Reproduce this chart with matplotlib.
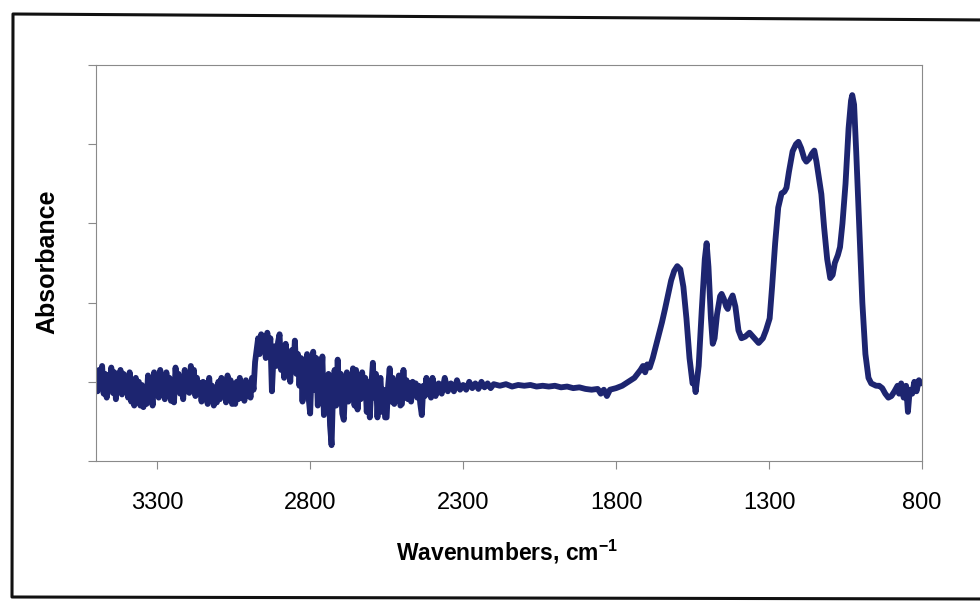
import numpy as np

from matplotlib import pyplot as plt
from matplotlib.lines import Line2D


FIG_W, FIG_H = 980, 601
LINE_COLOR = '#1d2570'
FRAME_COLOR = '#8a8a8a'

# noisy part of the spectrum, 3500 -> 2400 cm-1, every 5 cm-1
wn_noise = list(range(3500, 2395, -5))
ab_noise = [
    1.05, 0.88, 1.15, 0.92, 1.20, 0.85, 1.10, 0.80, 1.08, 0.95,
    1.18, 0.86, 1.12, 0.78, 1.02, 0.90, 1.15, 0.84, 1.10, 0.92,
    1.05, 0.80, 1.12, 0.75, 0.98, 0.70, 1.05, 0.82, 1.00, 0.70,
    0.96, 0.68, 0.90, 0.72, 1.08, 0.76, 0.98, 0.70, 1.12, 0.85,
    1.02, 0.80, 1.15, 0.88, 1.08, 0.78, 1.12, 0.90, 1.05, 0.76,
    0.95, 0.74, 1.18, 0.92, 1.10, 0.85, 1.02, 0.78, 1.15, 0.88,
    1.10, 0.86, 1.20, 0.90, 1.15, 0.82, 1.05, 0.88, 0.98, 0.75,
    1.00, 0.78, 0.98, 0.72, 1.05, 0.80, 0.95, 0.70, 0.92, 0.74,
    1.00, 0.78, 1.05, 0.82, 0.96, 0.74, 1.08, 0.86, 1.02, 0.72,
    0.95, 0.72, 1.00, 0.78, 1.05, 0.80, 0.98, 0.76, 1.02, 0.82,
    0.98, 0.80, 1.05, 0.90, 1.25, 1.40, 1.55, 1.35, 1.60, 1.45,
    1.58, 1.30, 1.62, 1.40, 1.55, 0.88, 1.30, 1.45, 1.20, 1.50,
    1.60, 1.15, 1.45, 1.05, 1.48, 1.10, 1.30, 1.00, 1.40, 1.15,
    1.52, 1.10, 1.35, 0.95, 1.30, 0.75, 1.28, 1.05, 1.35, 0.80,
    0.60, 1.15, 1.38, 0.90, 1.30, 0.70, 1.25, 0.95, 1.32, 0.58,
    1.05, 0.62, 1.10, 0.45, 0.20, 0.90, 1.15, 0.70, 1.28, 0.85,
    1.10, 0.60, 0.52, 1.00, 1.12, 0.75, 1.05, 0.82, 1.17, 0.70,
    1.15, 0.65, 1.08, 0.78, 1.12, 0.90, 1.05, 0.62, 1.00, 0.55,
    0.95, 1.24, 0.80, 1.10, 0.55, 0.98, 1.05, 0.62, 0.90, 0.55,
    0.55, 0.95, 1.17, 0.75, 1.05, 0.72, 1.00, 0.82, 1.08, 0.70,
    0.72, 1.15, 0.80, 1.02, 0.78, 0.98, 0.75, 1.00, 0.85, 0.98,
    0.80, 0.95, 0.72, 0.58, 0.95, 0.82, 1.05, 0.85, 0.98, 0.80,
    1.05,
]

# calmer stretch, 2390 -> 2200 cm-1
wn_calm = list(range(2390, 2190, -10))
ab_calm = [0.82, 0.98, 0.85, 1.05, 0.88, 0.98, 0.88, 1.02, 0.90, 0.96,
           0.90, 1.00, 0.92, 0.98, 0.91, 1.00, 0.93, 0.98, 0.92, 0.97]

# flat baseline, 2180 -> 1780 cm-1
wn_flat = [2180, 2160, 2140, 2120, 2100, 2080, 2060, 2040, 2020, 2000,
           1980, 1960, 1940, 1920, 1900, 1880, 1860, 1850, 1840, 1830,
           1820, 1800, 1780]
ab_flat = [0.95, 0.97, 0.94, 0.96, 0.95, 0.96, 0.94, 0.95, 0.94, 0.95,
           0.93, 0.94, 0.92, 0.93, 0.91, 0.90, 0.91, 0.85, 0.90, 0.82,
           0.90, 0.92, 0.95]

# absorption bands, 1760 -> 803 cm-1
wn_bands = [
    1760, 1740, 1730, 1720, 1712, 1705, 1698, 1690, 1680, 1670,
    1660, 1650, 1640, 1630, 1620, 1610, 1600, 1590, 1580, 1570,
    1560, 1550, 1545, 1540, 1530, 1520, 1510, 1504, 1498, 1490,
    1484, 1478, 1470, 1460, 1455, 1448, 1440, 1435, 1428, 1419,
    1410, 1400, 1390, 1378, 1364, 1350, 1334, 1320, 1310, 1298,
    1290, 1280, 1270, 1259, 1250, 1243, 1235, 1223, 1212, 1204,
    1195, 1185, 1178, 1168, 1160, 1152, 1145, 1138, 1129, 1120,
    1110, 1100, 1092, 1085, 1075, 1068, 1060, 1050, 1040, 1032,
    1028, 1022, 1015, 1005, 995, 985, 975, 966, 950, 940,
    930, 920, 910, 900, 890, 880, 875, 868, 860, 852,
    846, 840, 832, 825, 818, 810, 803,
]
ab_bands = [
    1.00, 1.05, 1.10, 1.15, 1.20, 1.12, 1.22, 1.18, 1.30, 1.45,
    1.60, 1.75, 1.92, 2.10, 2.28, 2.40, 2.46, 2.42, 2.20, 1.80,
    1.30, 0.98, 1.02, 0.87, 1.20, 1.90, 2.55, 2.75, 2.45, 1.80,
    1.48, 1.55, 1.85, 2.08, 2.11, 2.05, 1.95, 1.92, 2.02, 2.09,
    1.95, 1.65, 1.55, 1.57, 1.62, 1.56, 1.49, 1.55, 1.65, 1.80,
    2.20, 2.75, 3.20, 3.38, 3.40, 3.45, 3.65, 3.91, 4.00, 4.03,
    3.95, 3.82, 3.78, 3.82, 3.88, 3.92, 3.78, 3.60, 3.37, 2.95,
    2.55, 2.31, 2.35, 2.50, 2.60, 2.70, 3.00, 3.50, 4.20, 4.55,
    4.62, 4.50, 3.90, 2.94, 2.00, 1.35, 1.05, 0.98, 0.95, 0.95,
    0.92, 0.85, 0.80, 0.82, 0.88, 0.95, 0.85, 0.98, 0.80, 0.95,
    0.62, 0.90, 0.85, 1.00, 0.88, 1.02, 0.98,
]

x_ticks = [3300, 2800, 2300, 1800, 1300, 800]


def px(x, y):
    """Figure pixel (from top-left) -> figure fraction."""
    return x / FIG_W, 1 - y / FIG_H


plt.rcParams['font.family'] = ['Liberation Sans', 'DejaVu Sans']
plt.rcParams['mathtext.fontset'] = 'custom'
plt.rcParams['mathtext.rm'] = 'Liberation Sans'
plt.rcParams['mathtext.bf'] = 'Liberation Sans:bold'

wn = np.array(wn_noise + wn_calm + wn_flat + wn_bands)
ab = np.array(ab_noise + ab_calm + ab_flat + ab_bands)

fig = plt.figure(figsize=(FIG_W / 100, FIG_H / 100), dpi=100)
x0, y1 = px(96, 65)
x1, y0 = px(922, 461)
ax = fig.add_axes([x0, y0, x1 - x0, y1 - y0])

ax.plot(wn, ab, color=LINE_COLOR, lw=4.2, solid_joinstyle='round', solid_capstyle='round')
ax.set_xlim(3500, 800)
ax.set_ylim(0, 5)
ax.set_xticks(x_ticks)
ax.set_yticks(range(6))
ax.set_yticklabels([])
ax.tick_params(axis='x', direction='out', length=6, width=0.8, color=FRAME_COLOR,
               pad=16, labelsize=17)
ax.tick_params(axis='y', direction='out', length=6, width=0.8, color=FRAME_COLOR)
for spine in ax.spines.values():
    spine.set_color(FRAME_COLOR)
    spine.set_linewidth(0.8)

fig.text(*px(507, 552), r'Wavenumbers, cm$^{\mathbf{-1}}$', ha='center', va='center',
         fontsize=16.5, fontweight='bold')
fig.text(*px(47, 262), 'Absorbance', ha='center', va='center', rotation=90,
         fontsize=18, fontweight='bold')

# scanned outer frame (left, top and bottom edges)
corners = [(990, 20), (13, 14), (12, 597), (990, 599)]
fx, fy = zip(*[px(x, y) for x, y in corners])
fig.add_artist(Line2D(fx, fy, color='#111111', lw=2.2, transform=fig.transFigure))

fig.savefig('out.png', dpi=100, facecolor='white')
